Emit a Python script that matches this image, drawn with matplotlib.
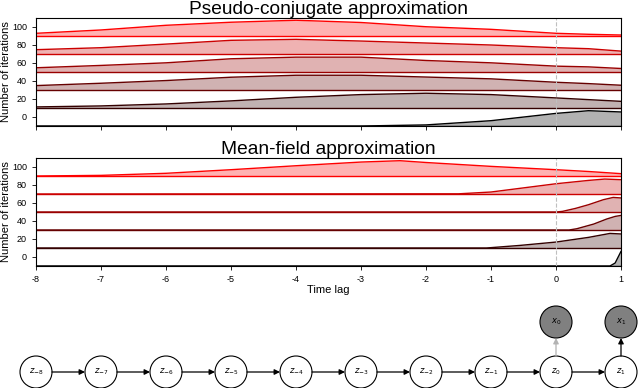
import numpy as np
import matplotlib
matplotlib.use("Agg")
import matplotlib.pyplot as plt
from matplotlib.patches import Circle

plt.rcParams['font.family'] = ['Liberation Sans', 'DejaVu Sans']
plt.rcParams['axes.unicode_minus'] = False

# 基线 (每条曲线的起始高度)
baselines = [-10, 10, 30, 50, 70, 90]
line_colors = [(0, 0, 0), (0.2, 0, 0), (0.4, 0, 0), (0.6, 0, 0), (0.8, 0, 0), (1, 0, 0)]

# 上图: Pseudo-conjugate approximation
x_top = [-8, -7, -6, -5, -4, -3, -2, -1, 0, 0.5, 1]
pc_m10 = [-10, -10, -10, -10, -10, -10, -8.8, -4.1, 4.0, 7.0, 5.6]
pc_10 = [11.2, 12.3, 14.5, 17.9, 21.9, 24.9, 26.4, 24.9, 21.2, 19.3, 17.4]
pc_30 = [34.9, 37.5, 40.5, 44.2, 46.4, 46.4, 44.4, 42.4, 38.6, 37.1, 35.3]
pc_50 = [54.7, 57.3, 60.2, 64.7, 66.5, 66.5, 62.8, 60.2, 56.5, 55.7, 53.9]
pc_70 = [74.8, 77.0, 81.0, 85.2, 86.3, 84.4, 82.2, 80.0, 77.0, 75.9, 73.2]
pc_90 = [93.0, 96.7, 101.9, 105.3, 107.5, 105.0, 100.3, 97.4, 93.0, 91.9, 91.1]
pc_curves = [pc_m10, pc_10, pc_30, pc_50, pc_70, pc_90]

# 下图: Mean-field approximation
mf_m10_x = [-8, 0.83, 0.91, 1]
mf_m10 = [-10, -10, -6.7, 6.2]
mf_10_x = [-8, -1.07, -0.55, 0, 0.5, 0.83, 1]
mf_10 = [10, 10, 12.9, 16.6, 21.8, 26.2, 25.6]
mf_30_x = [-8, 0.2, 0.32, 0.58, 0.78, 0.91, 1]
mf_30 = [30, 30, 31.4, 36.6, 42.2, 45.1, 46.2]
mf_50_x = [-8, 0, 0.1, 0.3, 0.5, 0.73, 0.88, 1]
mf_50 = [50, 50, 50.7, 54.0, 58.1, 63.7, 66.2, 65.6]
mf_70_x = [-8, -1.5, -1, -0.5, 0, 0.5, 0.75, 1]
mf_70 = [70, 70.2, 72.2, 76.8, 81.4, 85.1, 86.6, 85.9]
mf_90_x = [-8, -7, -6, -5, -4, -3, -2.4, -2, -1, 0, 0.5, 1]
mf_90 = [90, 90.7, 93.0, 97.0, 101.4, 105.5, 107.0, 105.0, 100.7, 97.0, 95.0, 92.6]
mf_xs = [mf_m10_x, mf_10_x, mf_30_x, mf_50_x, mf_70_x, mf_90_x]
mf_curves = [mf_m10, mf_10, mf_30, mf_50, mf_70, mf_90]

# 图模型节点
z_pos = list(range(-8, 2))
z_labels = [r'$z_{%d}$' % k for k in z_pos]
x_pos = [0, 1]
x_labels = [r'$x_0$', r'$x_1$']

W, H = 638, 388
fig = plt.figure(figsize=(W / 100, H / 100), dpi=100)
left, width = 36 / W, 585 / W
ax1 = fig.add_axes([left, 1 - 126 / H, width, 108 / H])
ax2 = fig.add_axes([left, 1 - 266 / H, width, 108 / H])


def ridges(ax, xs, curves, title):
    for base, c, xv, yv in zip(baselines, line_colors, xs, curves):
        ax.fill_between(xv, base, yv, color=c, alpha=0.3, lw=0)
        ax.plot(xv, yv, color=c, lw=1)
        ax.axhline(base, color=c, lw=1)
    ax.axvline(0, color='0.75', ls='--', lw=0.8)
    ax.set_xlim(-8, 1)
    ax.set_ylim(-10, 110)
    ax.set_xticks(range(-8, 2))
    ax.set_yticks(range(0, 101, 20))
    ax.tick_params(direction='out', labelsize=6.5, length=3, width=0.6)
    ax.set_ylabel('Number of iterations', fontsize=8, labelpad=1)
    ax.set_title(title, fontsize=13.8, pad=3)


ridges(ax1, [x_top] * 6, pc_curves, 'Pseudo-conjugate approximation')
ax1.set_xticklabels([])
ridges(ax2, mf_xs, mf_curves, 'Mean-field approximation')
ax2.set_xlabel('Time lag', fontsize=8, labelpad=1)

# 图模型
ax3 = fig.add_axes([left, 0, width, 98 / H])
unit = 65.0
y0 = -(388 - 372) / unit
ax3.set_xlim(-8, 1)
ax3.set_ylim(y0, y0 + 98 / unit)
ax3.axis('off')
r = 16 / unit
yx = (372 - 322) / unit

for k, lab in zip(z_pos, z_labels):
    ax3.add_patch(Circle((k, 0), r, fc='white', ec='k', lw=0.8, clip_on=False))
    ax3.text(k, 0, lab, ha='center', va='center', fontsize=6)
for k in z_pos[:-1]:
    ax3.annotate('', xy=(k + 1 - r, 0), xytext=(k + r, 0), annotation_clip=False,
                 arrowprops=dict(arrowstyle='-|>', color='k', lw=0.9,
                                 mutation_scale=8, shrinkA=0, shrinkB=0))
for k, lab, ac in zip(x_pos, x_labels, ['0.7', 'k']):
    ax3.add_patch(Circle((k, yx), r, fc='0.5', ec='k', lw=0.8, clip_on=False))
    ax3.text(k, yx, lab, ha='center', va='center', fontsize=6)
    ax3.annotate('', xy=(k, yx - r), xytext=(k, r), annotation_clip=False,
                 arrowprops=dict(arrowstyle='-|>', color=ac, lw=0.9,
                                 mutation_scale=8, shrinkA=0, shrinkB=0))

fig.savefig('out.png', dpi=100)
